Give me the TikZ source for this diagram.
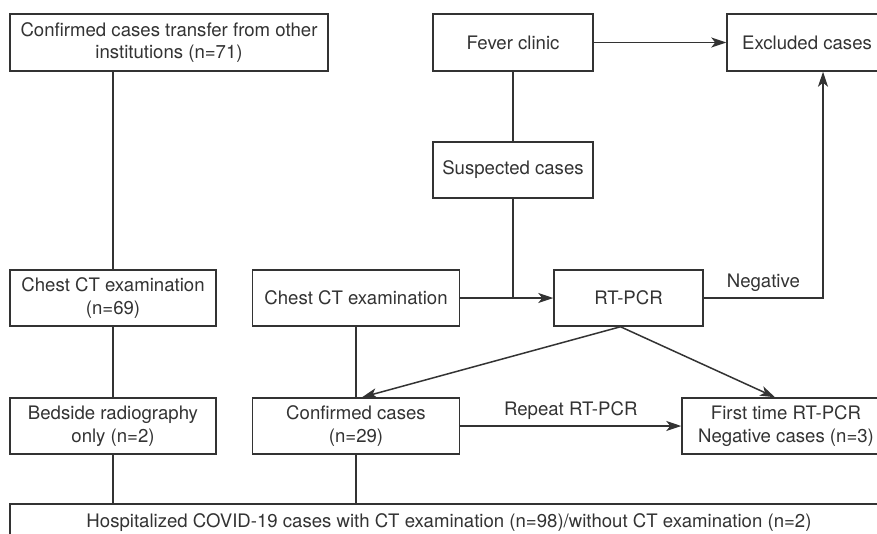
\documentclass[tikz,border=0pt]{standalone}
\usepackage{fontspec}
\setmainfont{TeX Gyre Heros}
\usetikzlibrary{arrows.meta}
\definecolor{linie}{HTML}{333333}
\begin{document}
\begin{tikzpicture}[x=1pt, y=-1pt, color=linie, line width=1.5pt,
	box/.style={draw, align=center, inner sep=0pt, minimum height=56pt},
	pfeil/.style={-{Stealth[length=15pt, width=10pt, inset=4pt]}},
	font=\fontsize{18.6}{22.5}\selectfont]
	\useasboundingbox (0,0) rectangle (877,533);
	\clip (0,0) rectangle (877,533);
	\fill[white] (0,0) rectangle (877,533);
	% Kaesten oben
	\node[box, minimum width=318pt, minimum height=57pt] (trans) at (169, 42.5)
		{Confirmed cases transfer from other\\institutions (n=71)};
	\node[box, minimum width=160pt, minimum height=57pt] (fever) at (513, 42.5)
		{Fever clinic};
	\node[box, minimum width=160pt, minimum height=57pt] (excl) at (807, 42.5)
		{Excluded cases};
	\node[box, minimum width=160pt] (susp) at (513, 170) {Suspected cases};
	% Kaesten Mitte
	\node[box, minimum width=206pt] (ct1) at (113, 298)
		{Chest CT examination\\(n=69)};
	\node[box, minimum width=207pt] (ct2) at (356, 298)
		{Chest CT examination};
	\node[box, minimum width=149pt] (pcr) at (628.5, 298) {RT-PCR};
	% Kaesten unten
	\node[box, minimum width=206pt] (bed) at (113, 426)
		{Bedside radiography\\only (n=2)};
	\node[box, minimum width=207pt] (conf) at (356, 426)
		{Confirmed cases\\(n=29)};
	\node[box, minimum width=208pt] (first) at (786, 426)
		{First time RT-PCR\\Negative cases (n=3)};
	\node[box, minimum width=878pt, minimum height=38pt] (hosp) at (449, 523)
		{Hospitalized COVID-19 cases with CT examination (n=98)/without CT examination (n=2)};
	% Linien links
	\draw (trans.south -| ct1.north) -- (ct1.north);
	\draw (ct1.south) -- (bed.north);
	\draw (bed.south) -- (bed.south |- hosp.north);
	% Linien Mitte
	\draw (ct2.south) -- (conf.north);
	\draw (conf.south) -- (conf.south |- hosp.north);
	\draw (fever.south) -- (susp.north);
	\draw (susp.south) -- (susp.south |- ct2.east);
	\draw[pfeil] (ct2.east) -- (pcr.west);
	\draw[pfeil] (fever.east) -- (excl.west);
	% Negative
	\coordinate (knick) at (823, 298);
	\draw[pfeil] (pcr.east) -- node[above, yshift=2pt] {Negative}
		(knick) -- (knick |- excl.south);
	% RT-PCR Ergebnisse
	\draw[pfeil] ([xshift=-8pt]pcr.south) -- ([xshift=6pt]conf.north);
	\draw[pfeil] ([xshift=-8pt]pcr.south) -- ([xshift=-11pt]first.north);
	\draw[pfeil] (conf.east) -- node[above, yshift=2pt] {Repeat RT-PCR}
		(first.west);
\end{tikzpicture}
\end{document}
